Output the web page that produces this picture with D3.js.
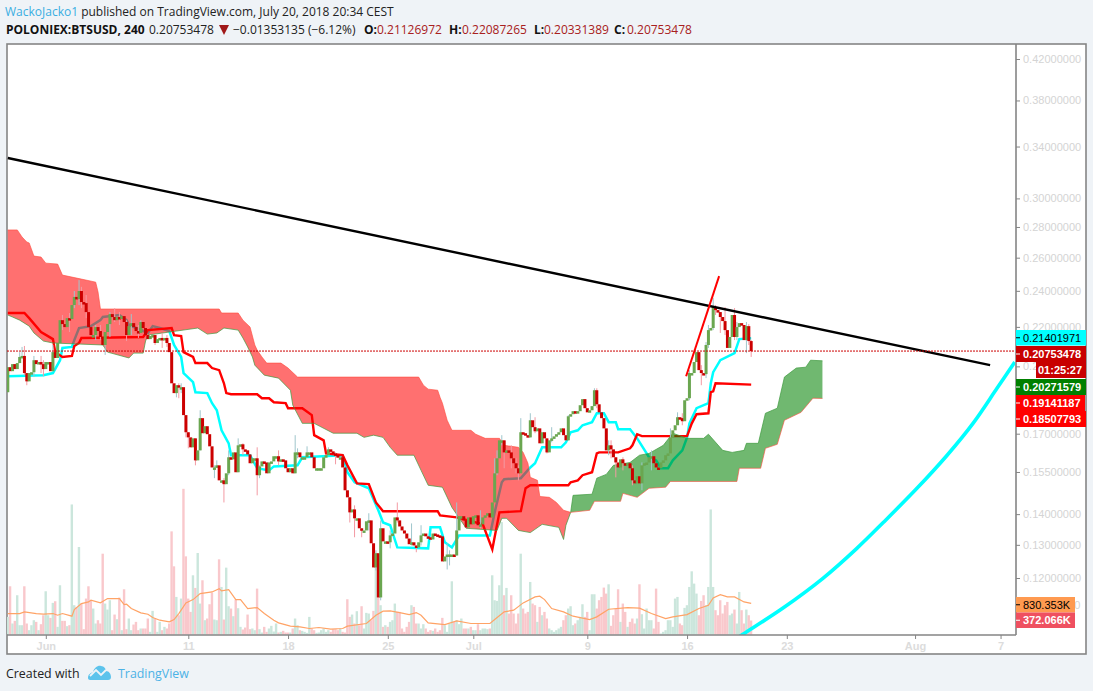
<!DOCTYPE html>
<html>
<head>
<meta charset="utf-8">
<script src="https://cdn.jsdelivr.net/npm/d3@7"></script>
<style>
  html, body { margin: 0; padding: 0; background: #eff3f7; }
  svg { display: block; }
  text { font-family: "Liberation Sans", Arial, sans-serif; }
  .head text, .foot text { font-family: "Open Sans", sans-serif; }
</style>
</head>
<body>
<div id="chart"></div>
<script>
// Candle closes, one per 4h bar, starting May 29 08:00 UTC
var firstOpen = 0.1879;
var closes = [
  .1996,.1977,.2011,.1987,.2016,.2046,.2051,.1968,.1929,.1968,
  .1972,.2030,.2011,.2021,.2011,.1987,.2021,.2021,.1977,.2070,
  .2041,.2116,.2236,.2215,.2199,.2247,.2242,.2319,.2365,.2353,
  .2399,.2336,.2330,.2280,.2199,.2157,.2157,.2199,.2178,.2147,
  .2106,.2173,.2215,.2269,.2253,.2236,.2253,.2242,.2258,.2226,
  .2157,.2204,.2220,.2199,.2178,.2168,.2226,.2194,.2157,.2136,
  .2152,.2157,.2116,.2136,.2142,.2136,.2142,.2116,.2070,.1920,
  .1875,.1911,.1902,.1902,.1778,.1706,.1685,.1645,.1681,.1594,
  .1633,.1765,.1702,.1731,.1698,.1649,.1567,.1567,.1575,.1519,
  .1519,.1505,.1545,.1606,.1598,.1625,.1549,.1653,.1657,.1637,
  .1633,.1617,.1583,.1602,.1602,.1538,.1571,.1590,.1586,.1545,
  .1586,.1590,.1610,.1610,.1590,.1598,.1594,.1564,.1549,.1564,
  .1545,.1625,.1625,.1606,.1606,.1606,.1625,.1625,.1606,.1564,
  .1564,.1564,.1564,.1606,.1614,.1637,.1629,.1621,.1614,.1606,
  .1606,.1567,.1483,.1458,.1406,.1416,.1386,.1386,.1353,.1346,
  .1346,.1376,.1379,.1305,.1231,.1274,.1145,.1353,.1311,.1311,
  .1308,.1330,.1336,.1389,.1379,.1359,.1346,.1336,.1320,.1302,
  .1308,.1298,.1292,.1308,.1330,.1336,.1327,.1324,.1317,.1336,
  .1333,.1330,.1327,.1249,.1264,.1270,.1270,.1270,.1267,.1346,
  .1393,.1393,.1379,.1356,.1389,.1366,.1393,.1396,.1363,.1366,
  .1389,.1396,.1403,.1389,.1440,.1545,.1602,.1673,.1673,.1625,
  .1633,.1625,.1602,.1583,.1564,.1545,.1706,.1702,.1694,.1685,
  .1756,.1727,.1710,.1722,.1661,.1706,.1681,.1625,.1673,.1681,
  .1689,.1698,.1706,.1722,.1694,.1673,.1773,.1782,.1795,.1786,
  .1795,.1821,.1848,.1808,.1790,.1799,.1817,.1888,.1825,.1790,
  .1765,.1722,.1633,.1653,.1637,.1606,.1586,.1567,.1598,.1583,
  .1575,.1583,.1564,.1519,.1508,.1534,.1508,.1575,.1583,.1586,
  .1606,.1610,.1583,.1567,.1564,.1586,.1594,.1614,.1621,.1685,
  .1714,.1735,.1769,.1765,.1752,.1843,.1852,.1968,.1968,.2021,
  .2070,.1982,.1968,.1963,.2106,.2183,.2194,.2308,.2291,.2280,
  .2253,.2231,.2183,.2091,.2147,.2264,.2147,.2199,.2220,.2210,
  .2131,.2204,.2126,.2075
];

// Volume in thousands, same bars
var volumes = [
  470,1286,293,364,1047,248,248,1286,293,115,
  248,381,337,115,275,514,1153,514,444,843,
  887,204,1313,364,364,222,248,3468,781,736,
  2333,825,142,958,1286,914,692,293,381,293,
  2155,825,665,914,115,532,408,985,115,1206,
  142,426,115,266,337,115,160,160,160,426,
  71,630,426,71,337,115,204,160,293,2750,
  1818,1002,514,958,3885,2084,958,603,1579,1242,
  2173,825,1446,381,426,807,1118,399,381,2005,
  1268,399,1783,754,692,488,931,701,204,133,
  186,532,142,160,115,1224,142,53,204,71,
  160,231,80,293,53,71,98,53,53,53,
  160,426,248,115,98,71,44,470,160,115,
  44,53,115,160,71,115,71,142,142,115,
  160,71,53,940,470,532,293,621,248,754,
  160,577,559,381,630,1800,1579,781,204,248,
  204,337,381,825,603,603,160,71,204,337,
  781,736,293,293,160,275,160,71,115,98,
  160,71,115,444,248,71,293,1419,337,381,
  275,426,160,160,160,204,115,115,275,115,
  160,160,142,160,1579,914,896,1313,2998,1047,
  1242,559,1047,559,293,559,2155,692,559,603,
  1401,825,781,337,736,514,603,426,160,115,
  71,115,160,204,381,514,692,754,248,293,
  381,470,807,470,603,115,1073,1073,692,914,
  1002,1251,1091,1339,231,514,692,1206,337,825,
  603,204,337,426,293,426,1339,541,160,692,
  381,381,160,1224,337,27,71,115,381,381,
  204,958,1002,293,248,710,781,1268,1685,1357,
  1091,514,896,1047,781,1268,3335,1268,648,514,
  914,559,781,869,514,559,665,293,1135,648,
  293,665,514,372
];

// Candles with a visible wick: bar, high, low
var wickBars = [5,6,7,8,11,14,15,19,23,26,28,30,31,33,37,39,41,43,45,47,50,52,55,56,62,65,67,71,72,73,75,76,79,81,87,88,91,93,97,99,105,106,114,121,122,126,135,138,144,146,149,152,155,157,161,164,170,172,174,185,186,189,199,205,206,208,209,212,214,215,216,220,222,227,229,236,247,248,253,254,256,259,263,267,271,279,282,284,287,292,294,295,297,298,300,302,306,307,311,312,313];
var wickHighs = [.2070,.2096,.2101,.1968,.2051,.2051,.2030,.2106,.2264,.2275,.2399,.2463,.2423,.2376,.2210,.2210,.2157,.2280,.2302,.2280,.2236,.2269,.2210,.2236,.2157,.2168,.2157,.1911,.1920,.1920,.1778,.1706,.1681,.1799,.1575,.1594,.1527,.1633,.1681,.1661,.1645,.1575,.1633,.1694,.1641,.1649,.1645,.1625,.1458,.1430,.1353,.1403,.1283,.1379,.1346,.1440,.1369,.1298,.1363,.1305,.1283,.1440,.1413,.1602,.1633,.1694,.1673,.1653,.1602,.1575,.1765,.1786,.1769,.1681,.1727,.1778,.1897,.1897,.1673,.1673,.1606,.1606,.1575,.1586,.1633,.1722,.1790,.1786,.1982,.2006,.2121,.2210,.2359,.2319,.2280,.2308,.2302,.2226,.2226,.2215,.2131];
var wickLows = [.2016,.2041,.1958,.1911,.1949,.1968,.1953,.1977,.2183,.2173,.2302,.2319,.2302,.2247,.2131,.2131,.2056,.2147,.2226,.2210,.2126,.2157,.2142,.2183,.2106,.2091,.2096,.1856,.1852,.1875,.1685,.1641,.1575,.1633,.1527,.1567,.1440,.1538,.1549,.1614,.1465,.1527,.1575,.1545,.1602,.1606,.1614,.1579,.1372,.1324,.1324,.1346,.1222,.1137,.1289,.1372,.1298,.1277,.1298,.1225,.1237,.1267,.1353,.1483,.1538,.1653,.1564,.1564,.1545,.1519,.1545,.1685,.1702,.1621,.1665,.1673,.1825,.1808,.1614,.1602,.1530,.1556,.1501,.1483,.1556,.1673,.1756,.1735,.1843,.1911,.1944,.2091,.2183,.2264,.2168,.2157,.2131,.2131,.2065,.2106,.2046];

// Ichimoku conversion line (drawn cyan)
var tenkanBars = [0,15,19,22,23,27,28,30,35,39,40,47,50,51,59,61,64,68,70,73,74,78,79,84,86,88,90,93,94,102,105,110,112,122,124,141,143,146,152,156,158,161,164,177,178,182,184,187,190,203,205,208,209,216,220,222,225,233,235,237,240,242,246,248,251,253,256,257,262,265,270,273,275,278,280,284,286,287,290,295,296,297,300,306,308,313];
var tenkanVals = [.1953,.1958,.1968,.2030,.2091,.2096,.2131,.2194,.2204,.2236,.2253,.2264,.2236,.2210,.2168,.2204,.2194,.2178,.2106,.2046,.1968,.1925,.1879,.1875,.1830,.1799,.1714,.1661,.1614,.1614,.1564,.1556,.1571,.1575,.1606,.1614,.1549,.1512,.1490,.1413,.1372,.1363,.1292,.1289,.1356,.1356,.1308,.1292,.1330,.1330,.1406,.1512,.1523,.1527,.1567,.1583,.1645,.1645,.1665,.1706,.1714,.1735,.1748,.1786,.1786,.1748,.1748,.1718,.1718,.1681,.1606,.1594,.1564,.1564,.1594,.1633,.1685,.1743,.1808,.1830,.1920,.1972,.2030,.2065,.2136,.2140];

// Ichimoku base line (drawn red)
var kijunBars = [0,7,9,14,19,20,23,27,28,30,31,57,59,69,70,73,74,78,79,84,86,89,91,92,94,105,107,110,112,117,118,124,128,129,133,134,141,143,147,152,155,158,181,182,189,200,204,207,216,218,220,236,237,240,242,246,248,249,257,262,263,265,267,286,288,290,295,296,297,298,313];
var kijunVals = [.2275,.2275,.2247,.2173,.2136,.2070,.2046,.2051,.2101,.2116,.2142,.2147,.2183,.2194,.2157,.2152,.2070,.2046,.2016,.2016,.1992,.1982,.1920,.1875,.1870,.1870,.1852,.1852,.1834,.1830,.1808,.1808,.1778,.1694,.1673,.1621,.1614,.1575,.1508,.1505,.1440,.1410,.1410,.1396,.1389,.1366,.1286,.1406,.1410,.1490,.1501,.1501,.1512,.1519,.1538,.1549,.1621,.1625,.1625,.1641,.1653,.1698,.1690,.1690,.1743,.1782,.1786,.1879,.1883,.1920,.1914];

// Cloud edges, lead A and lead B swap over at crossBar
var crossBar = 237;
var leadABars = [0,2,5,9,11,15,19,40,42,51,53,57,58,59,80,84,88,91,97,99,101,103,104,108,114,119,120,124,129,137,147,150,154,158,161,164,171,174,177,183,187,193,206,208,210,215,220,225,232,234,235,237,238,246,248,252,255,262,266,270,276,280,286,293,295,301,305,310,311,316,319,324,327,332,336,338,343];
var leadAVals = [.2264,.2253,.2236,.2204,.2168,.2126,.2116,.2106,.2070,.2041,.2065,.2065,.2126,.2157,.2194,.2162,.2168,.2194,.2183,.2142,.2096,.2046,.2006,.1958,.1944,.1888,.1821,.1743,.1743,.1702,.1702,.1685,.1694,.1685,.1645,.1614,.1614,.1556,.1501,.1494,.1423,.1353,.1346,.1386,.1386,.1346,.1339,.1366,.1356,.1317,.1363,.1406,.1465,.1469,.1527,.1541,.1575,.1586,.1614,.1621,.1653,.1702,.1681,.1681,.1698,.1633,.1625,.1633,.1661,.1661,.1786,.1808,.1949,.1992,.1996,.2030,.2027];
var leadBBars = [0,4,6,8,9,11,14,16,21,23,31,37,38,39,89,90,97,99,102,104,105,107,109,115,118,122,173,175,177,181,182,183,185,187,195,197,201,207,209,215,217,219,220,223,224,228,231,234,237,245,247,258,259,265,270,277,279,307,308,317,319,324,327,334,339,343];
var leadBVals = [.2780,.2780,.2733,.2700,.2694,.2610,.2604,.2566,.2560,.2493,.2469,.2451,.2393,.2297,.2297,.2275,.2275,.2236,.2199,.2106,.2080,.2046,.2016,.2016,.1992,.1949,.1949,.1911,.1893,.1888,.1856,.1830,.1756,.1714,.1714,.1698,.1681,.1681,.1653,.1645,.1625,.1583,.1530,.1519,.1461,.1458,.1440,.1413,.1406,.1413,.1444,.1444,.1472,.1458,.1490,.1494,.1515,.1515,.1564,.1564,.1641,.1657,.1756,.1790,.1852,.1851];

// Volume moving average
var volMaBars = [0,5,7,12,15,19,21,23,27,28,31,34,35,39,42,47,49,50,52,56,59,61,64,68,70,72,75,78,81,86,89,90,93,96,98,101,105,108,112,114,119,123,127,131,136,141,143,151,155,158,161,165,169,172,174,177,184,189,195,203,205,209,213,217,222,224,226,229,234,238,245,248,253,261,266,271,277,280,286,291,295,297,300,303,306,310,313];
var volMaVals = [559,559,603,559,541,559,514,559,488,665,825,869,914,843,958,958,798,807,692,577,541,452,381,337,399,559,843,931,1091,1135,1224,1162,1197,931,931,692,718,559,381,310,222,204,160,186,142,160,222,293,514,621,630,585,532,585,514,310,266,364,293,293,399,603,648,843,1002,1020,931,692,603,488,399,470,674,718,701,559,426,470,532,692,781,976,1064,1002,1002,869,830];

// Drawn lines: long trend line, short red line, cyan arc
var trendBars = [0, 413.6];
var trendVals = [.3307, .2006];
var redLineBars = [285.6, 299.5];
var redLineVals = [.1953, .2487];
var arcBars = [306,310.4,326.4,343.2,357.5,368.6,382.8,395.5,406.4,416.5,424];
var arcVals = [.1034,.1051,.1116,.1199,.1289,.1372,.1490,.1614,.1743,.1897,.2021];

// Axis ticks
var priceTicks = [.42,.38,.34,.30,.28,.26,.24,.22,.20,.17,.155,.14,.13,.12,.1124];
var tickDates = [Date.UTC(2018,5,1),Date.UTC(2018,5,11),Date.UTC(2018,5,18),Date.UTC(2018,5,25),Date.UTC(2018,6,1),Date.UTC(2018,6,9),Date.UTC(2018,6,16),Date.UTC(2018,6,23),Date.UTC(2018,7,1),Date.UTC(2018,7,7)];
var tickLabels = ['Jun','11','18','25','Jul','9','16','23','Aug','7'];

// Boxes on the price scale
var scaleBoxTexts = ['0.21401971','0.20753478','01:25:27','0.20271579','0.19141187','0.18507793','830.353K','372.066K'];
var lastClose = 0.20753478;

var width = 1093, height = 691;
var pane = { left: 7, right: 1016, top: 45, bottom: 635 };

var svg = d3.select('#chart').append('svg')
    .attr('width', width)
    .attr('height', height);

// White card with grey border
svg.append('rect')
    .attr('x', 7).attr('y', 44)
    .attr('width', 1079).attr('height', 610)
    .attr('fill', '#fff')
    .attr('stroke', '#858585')
    .attr('stroke-width', 1.6);

// Bar number to time, bars are 4 hours
var t0 = Date.UTC(2018,4,29,8);
function barTime(i) { return new Date(t0 + i * 4 * 3600 * 1000); }

var x = d3.scaleUtc()
    .domain([barTime(-0.337), barTime(424.08)])
    .range([7, 1015]);
function xBar(i) { return x(barTime(i)); }

var y = d3.scaleLog()
    .domain([.42, .12])
    .range([59, 578]);

var yVol = d3.scaleLinear()
    .domain([0, 4000])
    .range([634.5, 484.5]);

svg.append('clipPath').attr('id', 'pane')
    .append('rect')
    .attr('x', pane.left).attr('y', pane.top)
    .attr('width', pane.right - pane.left - 1)
    .attr('height', pane.bottom - pane.top);

var plot = svg.append('g').attr('clip-path', 'url(#pane)');

var opens = closes.map(function (c, i) { return i ? closes[i - 1] : firstOpen; });
function isUp(i) { return closes[i] >= opens[i]; }

// Volume bars
plot.selectAll('.vol')
    .data(volumes)
    .enter().append('rect')
    .attr('class', 'vol')
    .attr('x', function (d, i) { return xBar(i) - 1.3; })
    .attr('y', function (d) { return yVol(d); })
    .attr('width', 2.4)
    .attr('height', function (d) { return yVol(0) - yVol(d); })
    .attr('fill', function (d, i) { return isUp(i) ? '#cbe6dc' : '#f9c8cc'; });

function pairs(bars, vals) {
    return bars.map(function (b, i) { return [b, vals[i]]; });
}

var priceLine = d3.line()
    .x(function (d) { return xBar(d[0]); })
    .y(function (d) { return y(d[1]); });

// Volume MA
plot.append('path')
    .attr('d', d3.line()
        .x(function (d) { return xBar(d[0]); })
        .y(function (d) { return yVol(d[1]); })(pairs(volMaBars, volMaVals)))
    .attr('fill', 'none')
    .attr('stroke', '#ffa366')
    .attr('stroke-width', 1.2);

// Ichimoku lines sit under the cloud, so the cloud tints them
plot.append('path')
    .attr('d', priceLine(pairs(tenkanBars, tenkanVals)))
    .attr('fill', 'none')
    .attr('stroke', '#00ffff')
    .attr('stroke-width', 2.5);

plot.append('path')
    .attr('d', priceLine(pairs(kijunBars, kijunVals)))
    .attr('fill', 'none')
    .attr('stroke', '#ff0000')
    .attr('stroke-width', 2.4);

var leadA = pairs(leadABars, leadAVals);
var leadB = pairs(leadBBars, leadBVals);

function cloud(keep, color) {
    var top = leadA.filter(keep);
    var bot = leadB.filter(keep).reverse();
    plot.append('path')
        .attr('d', priceLine(top.concat(bot)) + 'Z')
        .attr('fill', color)
        .attr('fill-opacity', 0.56);
}
cloud(function (d) { return d[0] <= crossBar; }, '#ff0000');
cloud(function (d) { return d[0] >= crossBar; }, '#008000');

plot.append('path')
    .attr('d', priceLine(leadA))
    .attr('fill', 'none')
    .attr('stroke', '#3f9a3f')
    .attr('stroke-width', 1)
    .attr('stroke-opacity', 0.7);

plot.append('path')
    .attr('d', priceLine(leadB))
    .attr('fill', 'none')
    .attr('stroke', '#ff4a3a')
    .attr('stroke-width', 1)
    .attr('stroke-opacity', 0.6);

// Wicks then bodies
plot.selectAll('.wick')
    .data(wickBars)
    .enter().append('line')
    .attr('class', 'wick')
    .attr('x1', function (d) { return xBar(d); })
    .attr('x2', function (d) { return xBar(d); })
    .attr('y1', function (d, i) { return y(wickHighs[i]); })
    .attr('y2', function (d, i) { return y(wickLows[i]); })
    .attr('stroke', function (d) { return isUp(d) ? '#9fc6cc' : '#f39aa3'; })
    .attr('stroke-width', 1);

plot.selectAll('.body')
    .data(closes)
    .enter().append('rect')
    .attr('class', 'body')
    .attr('x', function (d, i) { return xBar(i) - 1.5; })
    .attr('y', function (d, i) { return y(Math.max(d, opens[i])); })
    .attr('width', 3)
    .attr('height', function (d, i) {
        return Math.max(2.5, Math.abs(y(d) - y(opens[i])));
    })
    .attr('fill', function (d, i) { return isUp(i) ? '#6aa650' : '#cc0000'; });

// Drawn lines
plot.append('path')
    .attr('d', priceLine(pairs(trendBars, trendVals)))
    .attr('stroke', '#000')
    .attr('stroke-width', 2.4)
    .attr('fill', 'none');

plot.append('path')
    .attr('d', priceLine(pairs(redLineBars, redLineVals)))
    .attr('stroke', '#ff0000')
    .attr('stroke-width', 2)
    .attr('fill', 'none');

plot.append('path')
    .attr('d', d3.line().curve(d3.curveCatmullRom)
        .x(function (d) { return xBar(d[0]); })
        .y(function (d) { return y(d[1]); })(pairs(arcBars, arcVals)))
    .attr('stroke', '#00ffff')
    .attr('stroke-width', 3.6)
    .attr('fill', 'none');

// Last price dotted line
plot.append('line')
    .attr('x1', pane.left).attr('x2', pane.right)
    .attr('y1', y(lastClose)).attr('y2', y(lastClose))
    .attr('stroke', '#cc0000')
    .attr('stroke-width', 1)
    .attr('stroke-dasharray', '2,1');

// Axes
var xAxis = svg.append('g')
    .attr('transform', 'translate(0,' + pane.bottom + ')')
    .call(d3.axisBottom(x).tickValues(tickDates.map(function (d) { return new Date(d); }))
        .tickFormat(function (d, i) { return tickLabels[i]; }).tickSize(4).tickPadding(3));
xAxis.select('.domain').attr('d', 'M' + pane.left + ',0H' + pane.right);

var yAxis = svg.append('g')
    .attr('transform', 'translate(' + pane.right + ',0)')
    .call(d3.axisRight(y).tickValues(priceTicks)
        .tickFormat(d3.format('.8f')).tickSize(4).tickPadding(3));
yAxis.select('.domain').attr('d', 'M0,' + (pane.top - 1) + 'V' + pane.bottom);

svg.selectAll('.domain').attr('stroke', '#858585').attr('stroke-width', 1.6);
svg.selectAll('.tick line').attr('stroke', '#858585');
svg.selectAll('.tick text')
    .attr('fill', '#d4d4d4')
    .style('font-family', '"Liberation Sans", Arial, sans-serif')
    .style('font-size', '11px');
xAxis.selectAll('.tick text').style('font-weight', 'bold').attr('fill', '#dcdcdc');

// Coloured boxes on the scale
var boxY = [330, 346, 362, 379, 395, 411, 597, 612.5];
var boxH = [15.5, 16, 16, 16, 16, 16, 15.5, 15.5];
var boxL = [1016, 1016, 1036, 1016, 1016, 1016, 1016, 1016];
var boxR = [1086, 1086, 1086, 1086, 1085, 1086, 1075, 1075];
var boxFill = ['#00ffff','#c80000','#c80000','#008000','#ff0000','#ff0000','#ff9a50','#ef5060'];
var boxText = ['#000','#fff','#fff','#fff','#fff','#fff','#000','#fff'];

var boxes = svg.append('g');
scaleBoxTexts.forEach(function (t, i) {
    boxes.append('rect')
        .attr('x', boxL[i]).attr('y', boxY[i])
        .attr('width', boxR[i] - boxL[i]).attr('height', boxH[i])
        .attr('fill', boxFill[i]);
    boxes.append('text')
        .attr('x', boxL[i] + (i === 2 ? 2 : 7))
        .attr('y', boxY[i] + boxH[i] / 2 + 4)
        .attr('fill', boxText[i])
        .style('font-size', '11px')
        .style('font-weight', boxText[i] === '#fff' ? 'bold' : 'normal')
        .text(t);
    // little tick mark on the box
    if (i !== 2) {
        boxes.append('line')
            .attr('x1', 1016).attr('x2', 1020)
            .attr('y1', boxY[i] + boxH[i] / 2).attr('y2', boxY[i] + boxH[i] / 2)
            .attr('stroke', boxText[i]);
    }
});

// Header lines
var head = svg.append('g').attr('class', 'head');
var line1 = head.append('text').attr('x', 5).attr('y', 16).style('font-size', '12px');
line1.append('tspan').attr('fill', '#3aaee2').text('WackoJacko1');
line1.append('tspan').attr('fill', '#222').text(' published on TradingView.com, July 20, 2018 20:34 CEST');

function headText(xp, txt, color, bold) {
    head.append('text')
        .attr('x', xp).attr('y', 34)
        .attr('fill', color)
        .style('font-size', '12px')
        .style('font-weight', bold ? 'bold' : 'normal')
        .text(txt);
}
headText(6, 'POLONIEX:BTSUSD, 240', '#111', true);
headText(149, '0.20753478', '#222', false);
head.append('path').attr('d', 'M219,25H229L224,35Z').attr('fill', '#a01818');
headText(233, '\u22120.01353135 (\u22126.12%)', '#222', false);
headText(364, 'O:', '#111', true);
headText(377, '0.21126972', '#a82020', false);
headText(449, 'H:', '#111', true);
headText(462, '0.22087265', '#a82020', false);
headText(534, 'L:', '#111', true);
headText(544, '0.20331389', '#a82020', false);
headText(614, 'C:', '#111', true);
headText(627, '0.20753478', '#a82020', false);

// Footer with logo
var foot = svg.append('g').attr('class', 'foot');
foot.append('text').attr('x', 6).attr('y', 678).attr('fill', '#222').style('font-size', '12.4px').text('Created with');
foot.append('path')
    .attr('d', 'M88,678 C88,674 91,673 93,672 C94,668 98,665 101,666 C104,666 106,669 106,671 C109,671 111,674 111,677 C111,679 110,680 108,680 H90 C89,680 88,679 88,678 Z')
    .attr('fill', '#5cc3ec');
foot.append('path')
    .attr('d', 'M90,676 L96,670 L101,675 L106,670')
    .attr('fill', 'none')
    .attr('stroke', '#eff3f7')
    .attr('stroke-width', 1.8);
foot.append('text').attr('x', 118).attr('y', 678).attr('fill', '#4cb2e6').style('font-size', '12.4px').text('TradingView');
</script>
</body>
</html>
